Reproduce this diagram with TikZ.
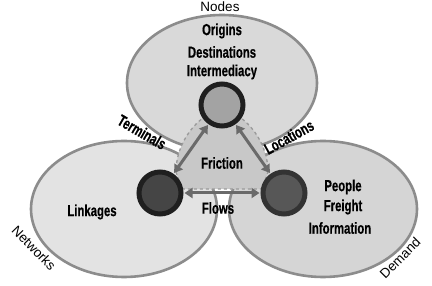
\documentclass[tikz,border=0pt]{standalone}
\usepackage{fontspec}
\setmainfont{Liberation Sans}
\newfontfamily\condfont[FakeStretch=0.71, BoldFeatures={FakeBold=0.4}]{Liberation Sans}
\usetikzlibrary{arrows.meta}
\definecolor{ellTop}{HTML}{D9D9D9}
\definecolor{ellLeft}{HTML}{E3E3E3}
\definecolor{ellRight}{HTML}{D5D5D5}
\definecolor{ellBorder}{HTML}{8C8C8C}
\definecolor{fricFill}{HTML}{C8C8C8}
\definecolor{fricBorder}{HTML}{9A9A9A}
\definecolor{arrGray}{HTML}{6A6A6A}
\tikzset{
  ellbox/.style={draw=ellBorder, line width=2.6pt},
  boldlbl/.style={font=\condfont\bfseries\fontsize{16}{20.5}\selectfont, align=center, text=black, inner sep=0pt},
  plainlbl/.style={font=\fontsize{13.5}{16}\selectfont, text=black, inner sep=0pt},
  hub/.style={circle, minimum size=42pt, inner sep=0pt, line width=5pt},
  dbl/.style={{Triangle[width=10pt,length=8pt]}-{Triangle[width=10pt,length=8pt]}, draw=arrGray, fill=arrGray, line width=3pt, shorten <=1pt, shorten >=1pt}
}
\begin{document}
\begin{tikzpicture}[x=1pt,y=-1pt]
\useasboundingbox (0,0) rectangle (432,286);
\fill[white] (0,0) rectangle (432,286);
% three ellipses
\draw[ellbox, fill=ellTop] (222,83) ellipse [x radius=95pt, y radius=68pt];
\draw[ellbox, fill=ellLeft] (124,209) ellipse [x radius=93pt, y radius=68pt];
\draw[ellbox, fill=ellRight] (323,209) ellipse [x radius=94pt, y radius=68pt];
% friction shape
\draw[fill=fricFill, draw=fricBorder, dashed, line width=1.3pt]
  (222,108) .. controls (196,116) and (176,143) .. (176,172)
  -- (182,189) -- (262,189) -- (268,172)
  .. controls (268,143) and (248,116) .. (222,108) -- cycle;
% hubs
\node[hub, draw=black!88, fill=black!36] (ntop) at (222,105) {};
\node[hub, draw=black!88, fill=black!73] (nleft) at (160,193) {};
\node[hub, draw=black!80, fill=black!66] (nright) at (284,193) {};
% arrows
\draw[dbl] (ntop) -- (nleft);
\draw[dbl] (ntop) -- (nright);
\draw[dbl] (nleft) -- (nright);
% labels
\node[plainlbl] (lnodes) at (220,7) {Nodes};
\node[boldlbl] (lorig) at (222,31) {Origins};
\node[boldlbl] (ldest) at (222,52) {Destinations};
\node[boldlbl] (linter) at (222,72) {Intermediacy};
\node[boldlbl, rotate=-30] (lterm) at (142,132) {Terminals};
\node[boldlbl, rotate=29] (lloc) at (289,137) {Locations};
\node[boldlbl] (lfric) at (222,163) {Friction};
\node[boldlbl] (lflows) at (218,208) {Flows};
\node[boldlbl] (llink) at (92,212) {Linkages};
\node[boldlbl] (lpeople) at (343,187) {People};
\node[boldlbl] (lfreight) at (343,207) {Freight};
\node[boldlbl] (linfo) at (340,228) {Information};
\node[plainlbl, rotate=-46] (lnet) at (34,248) {Networks};
\node[plainlbl, rotate=45] (ldem) at (400,258) {Demand};
\end{tikzpicture}
\end{document}
